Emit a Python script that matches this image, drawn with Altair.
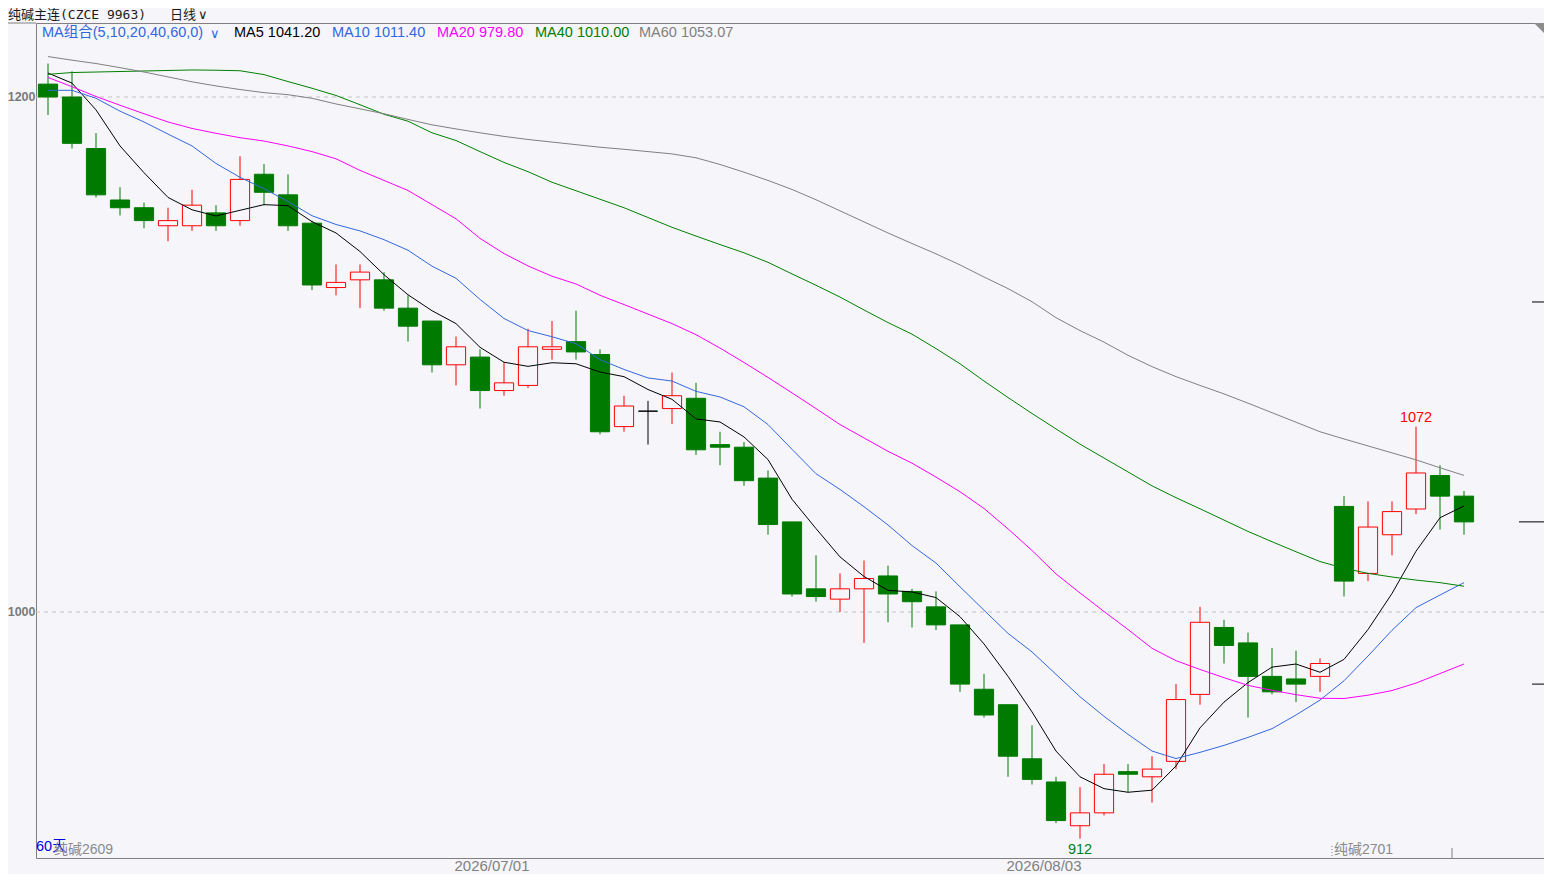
import altair as alt
import pandas as pd

# ---------------- data ----------------
opens  = [1205,1200,1180,1160,1157,1150,1150,1155,1152,1170,
          1162,1151,1126,1129,1129,1118,1113,1096,1099,1086,
          1088,1102,1105,1100,1072,1078,1079,1083,1065,1064,
          1052,1035,1009,1005,1009,1014,1008,1002,995,970,
          964,943,934,917,922,938,936,942,968,994,
          988,975,974,975,1041,1015,1030,1040,1053,1045]
highs  = [1213,1210,1186,1165,1159,1157,1164,1158,1177,1174,
          1170,1152,1135,1135,1132,1123,1113,1107,1102,1097,
          1110,1113,1117,1102,1084,1082,1093,1089,1070,1066,
          1055,1035,1022,1015,1020,1018,1009,1008,995,976,
          964,956,936,932,941,941,944,972,1002,997,
          992,986,985,982,1045,1043,1043,1072,1057,1047]
lows   = [1193,1180,1161,1154,1149,1144,1148,1148,1150,1158,
          1148,1125,1123,1118,1117,1105,1093,1088,1079,1084,
          1087,1098,1098,1069,1070,1065,1073,1061,1057,1049,
          1030,1006,1004,1000,988,996,994,993,969,959,
          936,933,918,912,921,930,926,939,964,980,
          959,968,965,969,1006,1012,1022,1038,1032,1030]
closes = [1200,1182,1162,1157,1152,1152,1158,1150,1168,1163,
          1150,1127,1128,1132,1118,1111,1096,1103,1086,1089,
          1103,1103,1101,1070,1080,1078,1084,1063,1064,1051,
          1034,1007,1006,1009,1013,1007,1004,995,972,960,
          944,935,919,922,937,937,939,966,996,987,
          975,969,972,980,1012,1033,1039,1054,1045,1035]

ma5  = [1209.3,1205.4,1195.0,1181.0,1170.6,1161.0,1156.2,1153.8,1156.0,1158.2,
        1157.8,1151.6,1147.2,1140.0,1131.0,1123.2,1117.0,1112.0,1102.8,1097.0,
        1095.4,1096.8,1096.4,1093.2,1091.4,1086.4,1082.6,1075.0,1073.8,1068.0,
        1059.2,1043.8,1032.4,1021.4,1013.8,1008.4,1007.8,1005.6,998.2,987.6,
        975.0,961.2,946.0,936.0,931.4,930.0,930.8,940.2,955.0,965.0,
        972.6,978.6,979.8,976.6,981.6,993.2,1007.2,1023.6,1036.6,1041.2]
ma10 = [1202.6,1202.6,1199.5,1194.5,1190.3,1185.6,1181.0,1174.2,1168.8,1164.4,
        1159.4,1153.9,1150.5,1148.0,1144.6,1140.5,1134.3,1129.6,1121.4,1114.0,
        1109.3,1106.9,1104.2,1098.0,1094.2,1090.9,1089.7,1085.7,1083.5,1079.7,
        1072.8,1063.2,1053.7,1047.6,1040.9,1033.8,1025.8,1019.0,1009.8,1000.7,
        991.7,984.5,975.8,967.1,959.5,952.5,946.0,943.1,945.5,948.2,
        951.3,954.7,960.0,965.8,973.3,982.9,992.9,1001.7,1006.6,1011.4]
ma20 = [1207.6,1204.0,1200.2,1196.8,1193.5,1190.3,1187.8,1185.9,1184.2,1182.9,
        1181.0,1178.8,1176.0,1171.5,1167.6,1163.7,1158.2,1152.7,1145.1,1139.2,
        1134.4,1130.4,1127.4,1123.0,1119.4,1115.7,1112.0,1107.7,1102.5,1096.9,
        1091.1,1085.1,1079.0,1072.8,1067.6,1062.4,1057.8,1052.4,1046.7,1040.2,
        1032.3,1023.9,1014.8,1007.4,1000.2,993.2,985.9,981.1,977.7,974.5,
        971.5,969.6,967.9,966.5,966.4,967.7,969.5,972.4,976.1,979.8]
ma40 = [1208.8,1209.5,1209.7,1209.9,1210.1,1210.3,1210.5,1210.4,1210.2,1208.7,
        1206.0,1203.4,1200.6,1197.0,1193.3,1190.6,1186.1,1183.1,1178.8,1174.6,
        1171.0,1166.9,1163.6,1160.3,1157.0,1153.2,1149.4,1146.0,1142.7,1139.5,
        1135.8,1131.3,1126.9,1122.3,1117.3,1112.4,1107.9,1102.3,1096.4,1089.7,
        1083.3,1077.1,1071.1,1065.2,1059.8,1054.4,1049.0,1044.4,1040.1,1035.7,
        1031.3,1027.3,1023.4,1019.6,1017.0,1015.0,1013.6,1012.4,1011.4,1010.0]
ma60 = [1215.7,1214.3,1213.0,1211.4,1209.7,1207.8,1205.9,1204.3,1202.9,1201.7,
        1200.9,1199.5,1197.3,1195.4,1193.5,1191.3,1189.2,1187.6,1186.1,1184.7,
        1183.5,1182.5,1181.5,1180.5,1179.7,1178.8,1177.9,1176.4,1173.8,1170.8,
        1167.6,1164.1,1160.1,1155.8,1151.5,1147.2,1143.1,1139.1,1134.8,1130.1,
        1125.6,1120.5,1114.3,1109.3,1104.8,1099.7,1095.3,1091.4,1088.0,1084.7,
        1081.1,1077.4,1073.7,1070.0,1067.2,1064.5,1061.8,1059.1,1056.0,1053.07]

ma_names = ["MA5", "MA10", "MA20", "MA40", "MA60"]
ma_last_text = ["1041.20", "1011.40", "979.80", "1010.00", "1053.07"]
ma_colors = ["#000000", "#3366E0", "#FF00FF", "#008000", "#808080"]

header_title = "纯碱主连(CZCE 9963)"
header_period = "日线"
ma_group_text = "MA组合(5,10,20,40,60,0)"
grid_levels = [1000, 1200]
date_labels = ["2026/07/01", "2026/08/03"]
date_idx = [18, 41]
contract_labels = ["纯碱2609", "纯碱2701"]
contract_switch_idx = [53.5]
end_tick_idx = [58.5]
count_label = "60天"
side_ticks_short = [1120.4, 972.0]
high_mark_idx = 57      # candle whose high is annotated ("1072")
low_mark_idx = 43       # candle whose low is annotated ("912")

# ---------------- layout / style ----------------
W, H = 1508, 835
BG = "#F6F6FA"
FONT = "Liberation Sans, Noto Sans CJK SC, sans-serif"
CJK = "Noto Sans CJK SC, sans-serif"
UP, DOWN, FLAT = "#FF0000", "#007A00", "#000000"

n = len(closes)
df = pd.DataFrame({"idx": list(range(n)), "open": opens, "high": highs,
                   "low": lows, "close": closes})

xs = alt.Scale(domain=[-0.5, W / 24 - 0.5], nice=False, zero=False)
ys = alt.Scale(domain=[904.47, 1228.74], nice=False, zero=False)

base = alt.Chart(df).transform_calculate(
    dir="datum.close > datum.open ? 'up' : (datum.close < datum.open ? 'down' : 'flat')",
    xa="datum.idx - 0.40",
    xb="datum.idx + 0.40",
)
dir_dom = ["up", "down", "flat"]
stroke_scale = alt.Scale(domain=dir_dom, range=[UP, DOWN, FLAT])
fill_scale = alt.Scale(domain=dir_dom, range=[BG, DOWN, FLAT])

wicks = base.mark_rule(strokeWidth=1).encode(
    x=alt.X("idx:Q", scale=xs, axis=None),
    y=alt.Y("low:Q", scale=ys, axis=None),
    y2="high:Q",
    stroke=alt.Stroke("dir:N", scale=stroke_scale, legend=None),
)
bodies = base.mark_rect(strokeWidth=1).encode(
    x=alt.X("xa:Q", scale=xs, axis=None),
    x2="xb:Q",
    y=alt.Y("open:Q", scale=ys, axis=None),
    y2="close:Q",
    fill=alt.Fill("dir:N", scale=fill_scale, legend=None),
    stroke=alt.Stroke("dir:N", scale=stroke_scale, legend=None),
)

ma_rows = []
for name, vals in zip(ma_names, [ma5, ma10, ma20, ma40, ma60]):
    for i, v in enumerate(vals):
        ma_rows.append({"idx": i, "val": v, "name": name})
ma_df = pd.DataFrame(ma_rows)
lines = alt.Chart(ma_df).mark_line(strokeWidth=1).encode(
    x=alt.X("idx:Q", scale=xs, axis=None),
    y=alt.Y("val:Q", scale=ys, axis=None),
    color=alt.Color("name:N", scale=alt.Scale(domain=ma_names, range=ma_colors), legend=None),
)

grid_df = pd.DataFrame({"level": grid_levels, "label": [str(v) for v in grid_levels]})
grid = alt.Chart(grid_df).mark_rule(color="#C4C4C8", strokeDash=[4, 4], strokeWidth=1).encode(
    y=alt.Y("level:Q", scale=ys, axis=None)
)
ylabels = alt.Chart(grid_df).mark_text(
    align="right", baseline="middle", fontSize=12.5, font=FONT, fontWeight="bold", color="#7A7A7A"
).encode(x=alt.value(-0.5), y=alt.Y("level:Q", scale=ys, axis=None), text="label:N")

# extremes
hi_df = pd.DataFrame({"idx": [high_mark_idx], "v": [highs[high_mark_idx]],
                      "t": [str(highs[high_mark_idx])]})
lo_df = pd.DataFrame({"idx": [low_mark_idx], "v": [lows[low_mark_idx]],
                      "t": [str(lows[low_mark_idx])]})
hi_lbl = alt.Chart(hi_df).mark_text(fontSize=14.5, font=FONT, color=UP, baseline="middle", dy=-9).encode(
    x=alt.X("idx:Q", scale=xs, axis=None), y=alt.Y("v:Q", scale=ys, axis=None), text="t:N")
lo_lbl = alt.Chart(lo_df).mark_text(fontSize=14.5, font=FONT, color="#007F20", baseline="middle", dy=11).encode(
    x=alt.X("idx:Q", scale=xs, axis=None), y=alt.Y("v:Q", scale=ys, axis=None), text="t:N")

# dates
date_df = pd.DataFrame({"idx": date_idx, "t": date_labels})
dates = alt.Chart(date_df).mark_text(fontSize=15, font=FONT, color="#808080", align="center",
                                     baseline="alphabetic", dx=12).encode(
    x=alt.X("idx:Q", scale=xs, axis=None), y=alt.value(H + 13), text="t:N")

# contract switch marker and labels
sw_df = pd.DataFrame({"idx": contract_switch_idx, "t": contract_labels[1:]})
sw_rule = alt.Chart(sw_df).mark_rule(color="#808080", strokeDash=[1, 2]).encode(
    x=alt.X("idx:Q", scale=xs, axis=None), y=alt.value(H - 12), y2=alt.value(H))
sw_text = alt.Chart(sw_df).mark_text(fontSize=14, font=FONT, color="#8A8A8A", align="left",
                                     baseline="middle", dx=2).encode(
    x=alt.X("idx:Q", scale=xs, axis=None), y=alt.value(H - 8), text="t:N")
end_df = pd.DataFrame({"idx": end_tick_idx})
end_tick = alt.Chart(end_df).mark_rule(color="#808080").encode(
    x=alt.X("idx:Q", scale=xs, axis=None), y=alt.value(H - 10), y2=alt.value(H))

# right side ticks
st_df = pd.DataFrame({"v": side_ticks_short})
side_short = alt.Chart(st_df).mark_rule(color="#000000").encode(
    y=alt.Y("v:Q", scale=ys, axis=None), x=alt.value(W - 12), x2=alt.value(W))
sl_df = pd.DataFrame({"v": [closes[-1]]})
side_long = alt.Chart(sl_df).mark_rule(color="#000000").encode(
    y=alt.Y("v:Q", scale=ys, axis=None), x=alt.value(W - 25), x2=alt.value(W))


def label(text, x, y, color, size=14.5, font=FONT, align="left", weight="normal", baseline="middle"):
    return alt.Chart(pd.DataFrame({"t": [text]})).mark_text(
        align=align, baseline=baseline, fontSize=size, font=font, color=color, fontWeight=weight
    ).encode(text="t:N", x=alt.value(x), y=alt.value(y))


texts = [
    label(header_title, -28, -8, "#1A1A1A", size=13, font="DejaVu Sans Mono, Noto Sans CJK SC"),
    label(header_period, 134, -8, "#1A1A1A", size=13, font=CJK),
    label("∨", 162, -8, "#1A1A1A", size=13, font="DejaVu Sans"),
    label(ma_group_text, 6, 10, "#3366E0", size=14.5),
    label("∨", 174, 11, "#3366E0", size=13, font="DejaVu Sans"),
    label(count_label, 0, H - 11, "#0000E0", size=14.5),
    label(contract_labels[0], 18, H - 8, "#8A8A8A", size=14),
]
ma_x = [198, 296, 401, 499, 603]
for name, val, col, xp in zip(ma_names, ma_last_text, ma_colors, ma_x):
    texts.append(label(f"{name} {val}", xp, 10, col))

top_line = alt.Chart(pd.DataFrame({"a": [0]})).mark_rule(color="#808080").encode(
    x=alt.value(-28), x2=alt.value(0), y=alt.value(0))
corner = alt.Chart(pd.DataFrame({"a": [0]})).mark_point(
    shape="M -1 -1 L 1 -1 L 1 1 Z", filled=True, color="#8C8C8C", size=100, opacity=1
).encode(x=alt.value(W - 5), y=alt.value(5))

chart = alt.layer(
    grid, wicks, bodies, lines, ylabels, hi_lbl, lo_lbl, dates, sw_rule, sw_text, end_tick,
    side_short, side_long, top_line, corner, *texts
).properties(
    width=W, height=H,
    padding={"left": 28, "top": 15, "right": 0, "bottom": 16},
    autosize=alt.AutoSizeParams(type="none"),
    background=BG,
).configure_view(stroke="#808080", strokeWidth=1)

chart.save("out.html", embed_options={"renderer": "svg", "actions": False})
